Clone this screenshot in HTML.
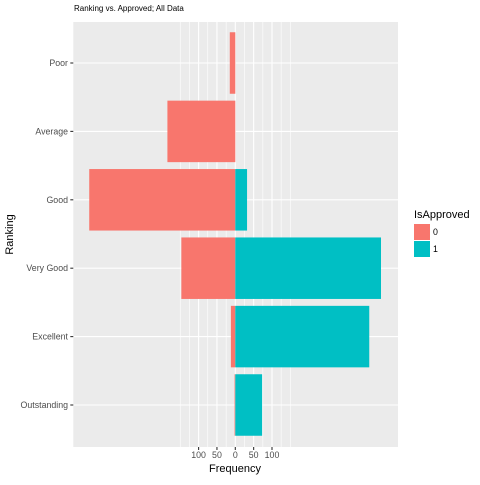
<!DOCTYPE html>
<html><head><meta charset="utf-8"><style>
body{margin:0;background:#fff;font-family:"Liberation Sans",sans-serif}
</style></head><body>
<svg id="chart" width="480" height="480" viewBox="0 0 480 480" xmlns="http://www.w3.org/2000/svg">
<text x="74" y="11" font-size="8" fill="#000">Ranking vs. Approved; All Data</text>
<rect x="73.3" y="22" width="324.7" height="425" fill="#ebebeb"/>
<g id="grid"></g>
<g id="bars"></g>
<g id="axes"></g>
<text x="235" y="472" font-size="11" text-anchor="middle" fill="#000">Frequency</text>
<text transform="translate(13,234.5) rotate(-90)" font-size="11" text-anchor="middle" fill="#000">Ranking</text>
<g>
<text x="414" y="218" font-size="11" fill="#000">IsApproved</text>
<rect x="414" y="224" width="16" height="16" fill="#f8766d"/>
<text x="433" y="235" font-size="8.8" fill="#000">0</text>
<rect x="414" y="241" width="16" height="16" fill="#00bfc4"/>
<text x="433" y="252" font-size="8.8" fill="#000">1</text>
</g>
</svg>
<script>
const categories=["Poor","Average","Good","Very Good","Excellent","Outstanding"];
const notApproved=[-15,-185,-398,-147,-12,-2];
const approved=[0,0,32,397,365,73];
const tickValues=[-100,-50,0,50,100];
const tickLabels=["100","50","0","50","100"];
const minorValues=[-150,-125,-75,-25,25,75,125,150];
const NS="http://www.w3.org/2000/svg";
const x0=235.3,k=0.367;
const xs=v=>x0+v*k;
const y0=63,step=68.4;
const ys=i=>y0+i*step;
const bw=61.5;
function mk(t,a,p){const e=document.createElementNS(NS,t);for(const n in a)e.setAttribute(n,a[n]);p.appendChild(e);return e;}
const grid=document.getElementById('grid'),bars=document.getElementById('bars'),axes=document.getElementById('axes');
minorValues.forEach(v=>{const l=mk('line',{x1:xs(v),x2:xs(v),y1:22,y2:447,stroke:'#fff','stroke-width':0.6},grid);

});
tickValues.forEach((v,i)=>{const l=mk('line',{x1:xs(v),x2:xs(v),y1:22,y2:447,stroke:'#fff','stroke-width':1.1},grid);


const t=mk('line',{x1:xs(v),x2:xs(v),y1:447,y2:450,stroke:'#333','stroke-width':1.1},axes);


const tx=mk('text',{x:xs(v),y:458,'font-size':8.8,'text-anchor':'middle',fill:'#4d4d4d'},axes);tx.textContent=tickLabels[i];

});
categories.forEach((c,i)=>{const y=ys(i);
const g=mk('line',{x1:73.3,x2:398,y1:y,y2:y,stroke:'#fff','stroke-width':1.1},grid);


const t=mk('line',{x1:70.3,x2:73.3,y1:y,y2:y,stroke:'#333','stroke-width':1.1},axes);


const tx=mk('text',{x:68,y:y+3,'font-size':8.8,'text-anchor':'end',fill:'#4d4d4d'},axes);tx.textContent=c;


const a=notApproved[i];
if(a!==0){const r=mk('rect',{x:xs(Math.min(a,0)),y:y-bw/2,width:Math.abs(a)*k,height:bw,fill:'#f8766d'},bars);

}
const b=approved[i];
if(b!==0){const r=mk('rect',{x:xs(0),y:y-bw/2,width:b*k,height:bw,fill:'#00bfc4'},bars);

}
});
</script>
</body></html>
